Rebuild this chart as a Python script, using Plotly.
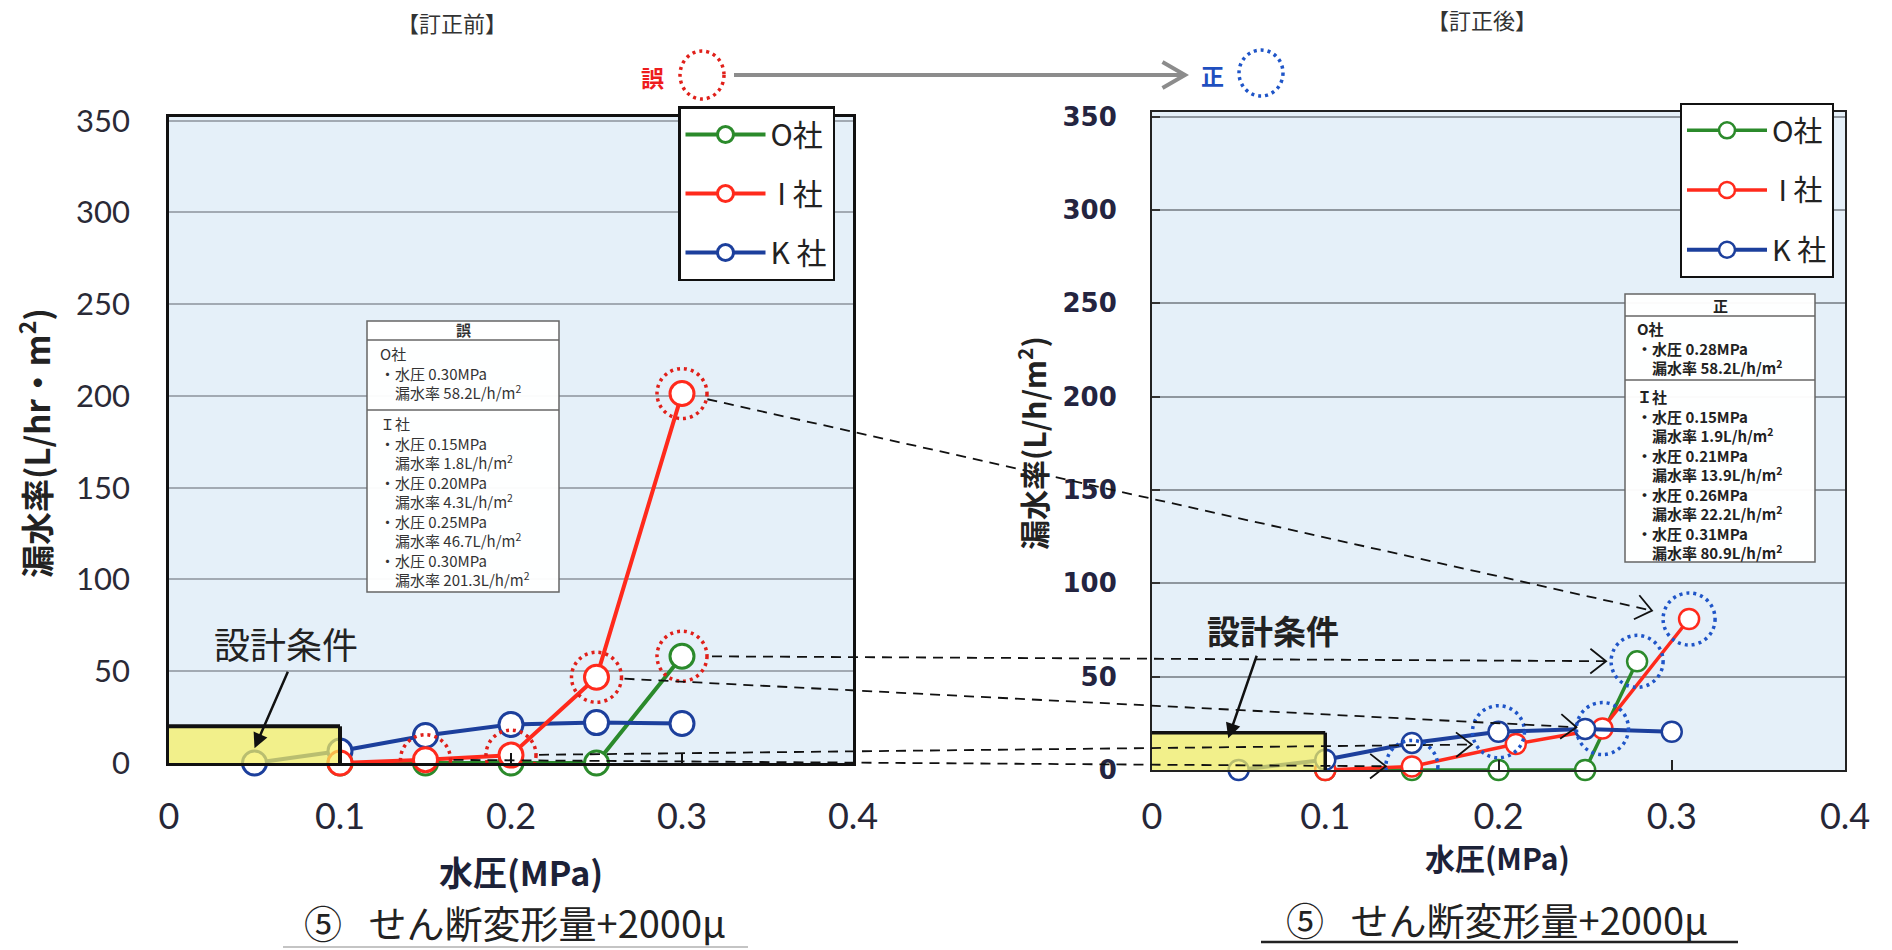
import math
import plotly.graph_objects as go

W, H = 1892, 950

# ---- data: water pressure (MPa) vs leakage rate (L/h/m2) ----
pressure_ticks = [0, 0.1, 0.2, 0.3, 0.4]
pressure_tick_text = ["0", "0.1", "0.2", "0.3", "0.4"]
leak_ticks = [0, 50, 100, 150, 200, 250, 300, 350]

series_names = {"O": "O社", "I": " I 社", "K": "K 社"}
series_colors = {"O": "#2b8a2b", "I": "#ff2a1c", "K": "#1c3f9c"}

# 訂正前 (before correction)
pre_O_x = [0.10, 0.15, 0.20, 0.25, 0.30]
pre_O_y = [0, 0, 0, 0, 58.2]
pre_I_x = [0.10, 0.15, 0.20, 0.25, 0.30]
pre_I_y = [0, 1.8, 4.3, 46.7, 201.3]
pre_K_x = [0.05, 0.10, 0.15, 0.20, 0.25, 0.30]
pre_K_y = [0, 6.5, 15, 21, 22, 21.5]

# 訂正後 (after correction)
post_O_x = [0.10, 0.15, 0.20, 0.25, 0.28]
post_O_y = [0, 0, 0, 0, 58.2]
post_I_x = [0.10, 0.15, 0.21, 0.26, 0.31]
post_I_y = [0, 1.9, 13.9, 22.2, 80.9]
post_K_x = [0.05, 0.10, 0.15, 0.20, 0.25, 0.30]
post_K_y = [0, 5.5, 14.5, 20.5, 22, 20.5]

# design condition region (設計条件)
design_x = [0, 0.1]
design_y = [0, 20]

pre = {"O": (pre_O_x, pre_O_y), "I": (pre_I_x, pre_I_y), "K": (pre_K_x, pre_K_y)}
post = {"O": (post_O_x, post_O_y), "I": (post_I_x, post_I_y), "K": (post_K_x, post_K_y)}

# points flagged as erroneous / corrected (series, index)
pre_flags = [("I", 1), ("I", 2), ("I", 3), ("I", 4), ("O", 4)]
post_flags = [("I", 1), ("K", 3), ("I", 3), ("O", 4), ("I", 4)]
# links from erroneous point to corrected point: (series, idx, series, idx, start gap, end gap)
links = [
    ("I", 4, "I", 4, 26, 38),
    ("O", 4, "O", 4, 30, 31),
    ("I", 3, "I", 3, 28, 26),
    ("I", 2, "I", 2, 28, 44),
    ("I", 1, "I", 1, 28, 26),
]

# ---- panel geometry (pixels) ----
LEFT = dict(x0=169, x1=853, top=117, bottom=763, xr=(0, 0.4), yr=(0, 352))
RIGHT = dict(x0=1152, x1=1845, top=112, bottom=770, xr=(0, 0.4), yr=(0, 352.5))


def to_pixel(panel, x, y):
    fx = (x - panel["xr"][0]) / (panel["xr"][1] - panel["xr"][0])
    fy = (y - panel["yr"][0]) / (panel["yr"][1] - panel["yr"][0])
    return (panel["x0"] + fx * (panel["x1"] - panel["x0"]),
            panel["bottom"] - fy * (panel["bottom"] - panel["top"]))


def px(x):
    return x / W


def py(y):
    return 1 - y / H


def label(text, x, y, size, color="#222", **kw):
    """Centred paper-positioned text at pixel (x, y)."""
    d = dict(text=text, x=px(x), y=py(y), xref="paper", yref="paper", showarrow=False,
             xanchor="center", yanchor="middle",
             font=dict(size=size, color=color, family="Noto Sans CJK JP"))
    d.update(kw)
    return d


def chevron(tipx, tipy, ux, uy, arm, spread_deg, color, width):
    """Open arrowhead path (paper coords) pointing along (ux, uy) in pixel space."""
    pts = []
    for s in (1, -1):
        a = math.radians(spread_deg) * s
        bx = -ux * math.cos(a) + uy * math.sin(a)
        by = -uy * math.cos(a) - ux * math.sin(a)
        pts.append((tipx + bx * arm, tipy + by * arm))
    path = "M{},{} L{},{} L{},{}".format(px(pts[0][0]), py(pts[0][1]), px(tipx), py(tipy),
                                          px(pts[1][0]), py(pts[1][1]))
    return dict(type="path", xref="paper", yref="paper", path=path,
                line=dict(color=color, width=width), layer="above")


fig = go.Figure()

rank = {"O": 1, "I": 2, "K": 3}
for key in ["O", "K", "I"]:
    xs, ys = pre[key]
    fig.add_trace(go.Scatter(
        x=xs, y=ys, name=series_names[key], mode="lines+markers",
        xaxis="x", yaxis="y", legend="legend", legendrank=rank[key],
        legendgroup="pre" + key, cliponaxis=False,
        line=dict(color=series_colors[key], width=4),
        marker=dict(symbol="circle", size=24, color="white",
                    line=dict(color=series_colors[key], width=3)),
    ))
for key in ["O", "I", "K"]:
    xs, ys = post[key]
    fig.add_trace(go.Scatter(
        x=xs, y=ys, name=series_names[key], mode="lines+markers",
        xaxis="x2", yaxis="y2", legend="legend2", legendrank=rank[key],
        legendgroup="post" + key, cliponaxis=False,
        line=dict(color=series_colors[key], width=4 if key == "K" else 3.5),
        marker=dict(symbol="circle", size=20, color="white",
                    line=dict(color=series_colors[key], width=2.5)),
    ))

shapes = []
annotations = []

# design condition boxes
for xr_, yr_, bw in (("x", "y", 4), ("x2", "y2", 3.5)):
    shapes.append(dict(type="rect", xref=xr_, yref=yr_, x0=design_x[0], x1=design_x[1],
                       y0=design_y[0], y1=design_y[1], fillcolor="rgba(246,240,96,0.72)",
                       line=dict(width=0), layer="above"))
    shapes.append(dict(type="line", xref=xr_, yref=yr_, x0=design_x[0], x1=design_x[1],
                       y0=design_y[1], y1=design_y[1], line=dict(color="#111", width=bw), layer="above"))
    shapes.append(dict(type="line", xref=xr_, yref=yr_, x0=design_x[1], x1=design_x[1],
                       y0=design_y[0], y1=design_y[1], line=dict(color="#111", width=bw), layer="above"))

# dotted highlight rings
for key, i in pre_flags:
    shapes.append(dict(type="circle", xref="x", yref="y", xsizemode="pixel", ysizemode="pixel",
                       xanchor=pre[key][0][i], yanchor=pre[key][1][i], x0=-25, x1=25, y0=-25, y1=25,
                       line=dict(color="#e0201a", width=3.5, dash="3px,4px"), layer="above"))
for key, i in post_flags:
    shapes.append(dict(type="circle", xref="x2", yref="y2", xsizemode="pixel", ysizemode="pixel",
                       xanchor=post[key][0][i], yanchor=post[key][1][i], x0=-26, x1=26, y0=-26, y1=26,
                       line=dict(color="#1f55c8", width=3.5, dash="3px,4px"), layer="above"))

# dashed links from erroneous to corrected points
for s0, i0, s1, i1, g0, g1 in links:
    ax_, ay_ = to_pixel(LEFT, pre[s0][0][i0], pre[s0][1][i0])
    bx_, by_ = to_pixel(RIGHT, post[s1][0][i1], post[s1][1][i1])
    dx, dy = bx_ - ax_, by_ - ay_
    d = math.hypot(dx, dy)
    ux, uy = dx / d, dy / d
    sx, sy = ax_ + ux * g0, ay_ + uy * g0
    ex, ey = bx_ - ux * g1, by_ - uy * g1
    shapes.append(dict(type="line", xref="paper", yref="paper", x0=px(sx), y0=py(sy),
                       x1=px(ex), y1=py(ey), line=dict(color="#111", width=1.8, dash="10px,7px"),
                       layer="above"))
    shapes.append(chevron(ex, ey, ux, uy, 20, 38, "#111", 1.8))

# header: 誤 → 正
shapes.append(dict(type="line", xref="paper", yref="paper", x0=px(734), y0=py(75), x1=px(1183),
                   y1=py(75), line=dict(color="#8c8c8c", width=4)))
shapes.append(chevron(1185, 75, 1, 0, 26, 30, "#8c8c8c", 4))
shapes.append(dict(type="circle", xref="paper", yref="paper", xsizemode="pixel", ysizemode="pixel",
                   xanchor=px(702), yanchor=py(75), x0=-22, x1=22, y0=-24, y1=24,
                   line=dict(color="#e0201a", width=3.5, dash="3px,4px")))
shapes.append(dict(type="circle", xref="paper", yref="paper", xsizemode="pixel", ysizemode="pixel",
                   xanchor=px(1261), yanchor=py(73), x0=-22, x1=22, y0=-23, y1=23,
                   line=dict(color="#1f55c8", width=3.5, dash="3px,4px")))
annotations += [
    label("【訂正前】", 452, 22, 22, "#333"),
    label("【訂正後】", 1482, 19, 22, "#333"),
    label("<b>誤</b>", 652, 77, 23, "#ee1c1c"),
    label("<b>正</b>", 1212, 75, 23, "#1f4fbf"),
]


# note tables
def note_lines(xs, ys, idxs):
    out = []
    for i in idxs:
        out.append("・水圧 {:.2f}MPa".format(xs[i]))
        out.append("\u3000漏水率 {}L/h/m<sup>2</sup>".format(ys[i]))
    return out


def note_box(x0, x1, y0, y1, sep1, sep2, head, head_y, head_color, o_lines, i_lines,
             tx, o_top, i_top, font_color, bold):
    shapes.append(dict(type="rect", xref="paper", yref="paper", x0=px(x0), x1=px(x1), y0=py(y1),
                       y1=py(y0), fillcolor="rgba(255,255,255,0.96)",
                       line=dict(color="#666", width=1.5), layer="above"))
    for s in (sep1, sep2):
        shapes.append(dict(type="line", xref="paper", yref="paper", x0=px(x0), x1=px(x1),
                           y0=py(s), y1=py(s), line=dict(color="#666", width=1.5), layer="above"))
    f = dict(size=15, color=font_color, family="Noto Sans CJK JP", weight="bold" if bold else "normal")
    annotations.append(label("<b>" + head + "</b>", (x0 + x1) / 2, head_y, 15, head_color))
    annotations.append(dict(text="<br>".join(o_lines), x=px(tx), y=py(o_top), xref="paper",
                            yref="paper", xanchor="left", yanchor="top", align="left",
                            showarrow=False, font=f))
    annotations.append(dict(text="<br>".join(i_lines), x=px(tx), y=py(i_top), xref="paper",
                            yref="paper", xanchor="left", yanchor="top", align="left",
                            showarrow=False, font=f))


note_box(367, 559, 321, 592, 340, 410, "誤", 330, "#333",
         ["O社"] + note_lines(pre_O_x, pre_O_y, [4]),
         ["Ｉ社"] + note_lines(pre_I_x, pre_I_y, [1, 2, 3, 4]),
         378, 341, 411, "#333", False)
note_box(1625, 1815, 294, 562, 316, 380, "正", 305, "#222",
         ["O社"] + note_lines(post_O_x, post_O_y, [4]),
         ["Ｉ社"] + note_lines(post_I_x, post_I_y, [1, 2, 3, 4]),
         1635, 316, 384, "#222", True)

# design-condition labels with arrows
annotations += [
    label("設計条件", 286, 643, 36, "#222"),
    dict(text="", x=0.05, y=8, xref="x", yref="y", ax=34, ay=-78, showarrow=True,
         arrowhead=2, arrowsize=1.2, arrowwidth=2.5, arrowcolor="#111"),
    label("<b>設計条件</b>", 1273, 630, 33, "#222"),
    dict(text="", x=0.044, y=17, xref="x2", yref="y2", ax=29, ay=-84, showarrow=True,
         arrowhead=2, arrowsize=1.2, arrowwidth=2.5, arrowcolor="#111"),
]

# axis titles and captions
caption = "⑤\u2002\u2009せん断変形量+2000μ"
annotations += [
    label("<b>漏水率(L/hr・m<sup>2</sup>)</b>", 34, 443, 33, "#222", textangle=-90),
    label("<b>漏水率(L/h/m<sup>2</sup>)</b>", 1032, 443, 30, "#222", textangle=-90),
    label("<b>水圧(MPa)</b>", 521, 871, 34, "#1c2238"),
    label("<b>水圧(MPa)</b>", 1497, 857, 30, "#1c2238"),
    label(caption, 515, 921, 38, "#222"),
    label(caption, 1497, 918, 38, "#222"),
]
shapes.append(dict(type="line", xref="paper", yref="paper", x0=px(283), x1=px(748), y0=py(947),
                   y1=py(947), line=dict(color="#b0b0b0", width=1.5)))
shapes.append(dict(type="line", xref="paper", yref="paper", x0=px(1261), x1=px(1738), y0=py(942),
                   y1=py(942), line=dict(color="#222", width=2.5)))

tick_x_font = dict(size=36, color="#262636", family="Lato, Roboto, sans-serif")
common_y = dict(tickvals=leak_ticks, showgrid=True, zeroline=False, showline=True, mirror=True,
                automargin=False)

fig.update_layout(
    width=W, height=H, margin=dict(l=0, r=0, t=0, b=0, pad=0, autoexpand=False),
    paper_bgcolor="white", plot_bgcolor="#e5f0f9",
    showlegend=True,
    xaxis=dict(domain=[px(LEFT["x0"]), px(LEFT["x1"])], range=list(LEFT["xr"]), anchor="y",
               tickvals=pressure_ticks, ticktext=pressure_tick_text, showgrid=False,
               zeroline=False, showline=True, mirror=True, linecolor="#111", linewidth=2.5,
               ticks="inside", ticklen=10, tickcolor="#111", tickwidth=2, automargin=False,
               ticklabelstandoff=20, tickfont=tick_x_font),
    yaxis=dict(domain=[py(LEFT["bottom"]), py(LEFT["top"])], range=list(LEFT["yr"]), anchor="x",
               gridcolor="#a2aab3", gridwidth=1.5, linecolor="#111", linewidth=2.5,
               ticks="", ticklabelstandoff=30,
               tickfont=dict(size=31, color="#2a2a36", family="Lato, sans-serif"), **common_y),
    xaxis2=dict(domain=[px(RIGHT["x0"]), px(RIGHT["x1"])], range=list(RIGHT["xr"]), anchor="y2",
                tickvals=pressure_ticks, ticktext=pressure_tick_text, showgrid=False,
                zeroline=False, showline=True, mirror=True, linecolor="#222", linewidth=2,
                ticks="inside", ticklen=10, tickcolor="#222", tickwidth=2, automargin=False,
                ticklabelstandoff=14, tickfont=tick_x_font),
    yaxis2=dict(domain=[py(RIGHT["bottom"]), py(RIGHT["top"])], range=list(RIGHT["yr"]), anchor="x2",
                gridcolor="#8f979f", gridwidth=2, linecolor="#222", linewidth=2,
                ticks="inside", ticklen=8, tickcolor="#333", tickwidth=2, ticklabelstandoff=28,
                tickfont=dict(size=26, color="#242440", family="DejaVu Sans", weight="bold"),
                **common_y),
    legend=dict(x=px(678), y=py(106), xanchor="left", yanchor="top", bgcolor="white",
                bordercolor="#111", borderwidth=2.5, tracegroupgap=17, itemwidth=80,
                font=dict(size=30, color="#222", family="Noto Sans CJK JP")),
    legend2=dict(x=px(1680), y=py(103), xanchor="left", yanchor="top", bgcolor="white",
                 bordercolor="#111", borderwidth=2, tracegroupgap=19, itemwidth=80,
                 font=dict(size=29, color="#222", family="Noto Sans CJK JP")),
    shapes=shapes, annotations=annotations,
)

fig.write_html("out.html")
